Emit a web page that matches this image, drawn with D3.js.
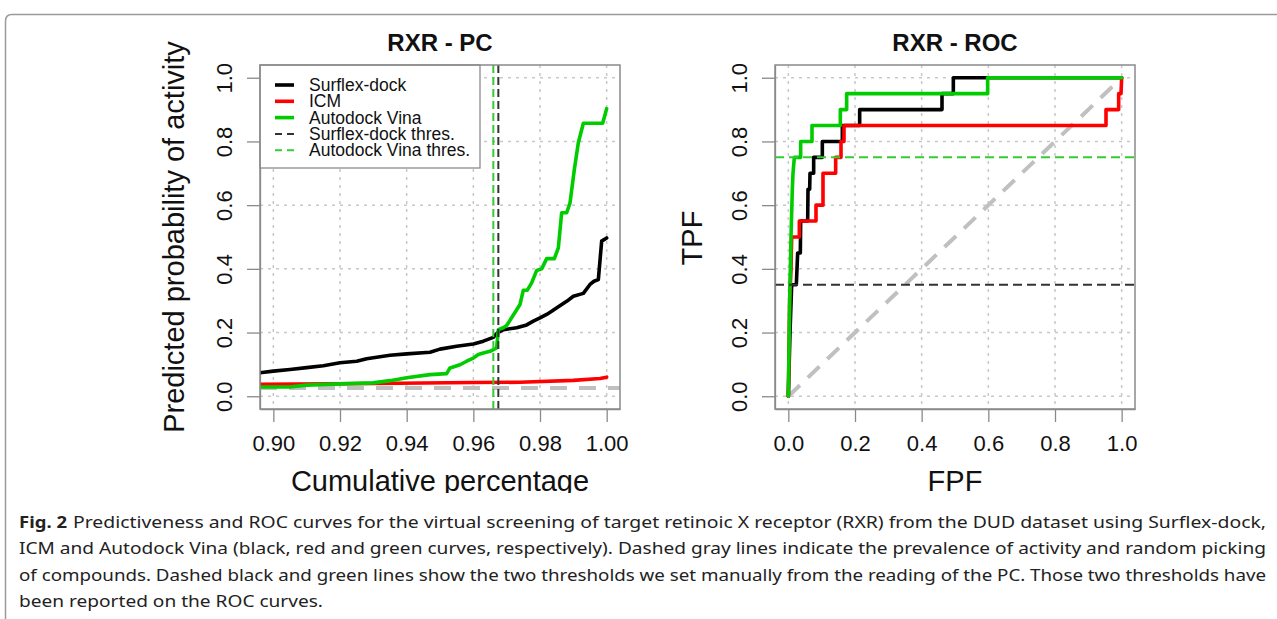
<!DOCTYPE html>
<html><head><meta charset="utf-8">
<script src="https://cdn.jsdelivr.net/npm/d3@7"></script>
<style>html,body{margin:0;padding:0;background:#fff;}svg{display:block;}</style>
</head><body>
<script>
// ---------- data ----------
const pcTicksX = [0.90, 0.92, 0.94, 0.96, 0.98, 1.00];
const probTicks = [0.0, 0.2, 0.4, 0.6, 0.8, 1.0];
const fpfTicks = [0.0, 0.2, 0.4, 0.6, 0.8, 1.0];

const pcSurflexX = [0.890,0.900,0.905,0.910,0.915,0.920,0.925,0.928,0.935,0.940,0.947,0.950,0.955,0.960,0.963,0.966,0.9672,0.969,0.973,0.976,0.978,0.980,0.982,0.9835,0.9855,0.988,0.990,0.993,0.995,0.9962,0.9975,0.9985,1.000];
const pcSurflexY = [0.066,0.079,0.084,0.090,0.096,0.105,0.110,0.118,0.129,0.133,0.138,0.148,0.157,0.164,0.173,0.185,0.199,0.209,0.215,0.224,0.236,0.246,0.257,0.267,0.281,0.298,0.314,0.323,0.351,0.361,0.366,0.487,0.497];
const pcIcmX = [0.890,0.930,0.960,0.974,0.990,0.998,1.000];
const pcIcmY = [0.037,0.040,0.043,0.044,0.050,0.056,0.060];
const pcVinaX = [0.890,0.905,0.910,0.920,0.930,0.935,0.940,0.947,0.952,0.953,0.956,0.958,0.960,0.9615,0.963,0.965,0.967,0.9675,0.969,0.970,0.974,0.975,0.9762,0.9775,0.979,0.9805,0.982,0.9843,0.9855,0.9865,0.988,0.989,0.9903,0.9915,0.993,0.9988,1.000];
const pcVinaY = [0.029,0.029,0.035,0.039,0.042,0.049,0.058,0.068,0.071,0.089,0.099,0.110,0.120,0.131,0.136,0.141,0.152,0.209,0.215,0.222,0.288,0.333,0.333,0.356,0.395,0.400,0.432,0.432,0.466,0.576,0.576,0.607,0.712,0.796,0.857,0.857,0.903];
const prevalence = 0.026;
const thrSurflexPC = 0.9675;
const thrVinaPC = 0.966;

const rocSurflexFPF = [0,0.005,0.010,0.024,0.026,0.028,0.036,0.037,0.058,0.059,0.064,0.065,0.076,0.076,0.102,0.102,0.162,0.162,0.214,0.214,0.461,0.461,0.495,0.495,1.0];
const rocSurflexTPF = [0,0.20,0.35,0.35,0.40,0.45,0.45,0.55,0.55,0.65,0.65,0.70,0.70,0.75,0.75,0.80,0.80,0.85,0.85,0.90,0.90,0.95,0.95,1.0,1.0];
const rocIcmFPF = [0,0.004,0.008,0.010,0.033,0.033,0.083,0.083,0.104,0.104,0.142,0.142,0.158,0.158,0.167,0.167,0.953,0.953,0.991,0.991,0.998,1.0];
const rocIcmTPF = [0,0.30,0.40,0.50,0.50,0.55,0.55,0.60,0.60,0.70,0.70,0.75,0.75,0.80,0.80,0.85,0.85,0.90,0.90,0.95,0.95,1.0];
const rocVinaFPF = [0,0.004,0.008,0.012,0.014,0.018,0.037,0.037,0.071,0.071,0.156,0.156,0.175,0.175,0.598,0.598,1.0];
const rocVinaTPF = [0,0.30,0.50,0.65,0.70,0.75,0.75,0.80,0.80,0.85,0.85,0.90,0.90,0.95,0.95,1.0,1.0];
const thrSurflexROC = 0.35;
const thrVinaROC = 0.75;

const legendLabels = ["Surflex-dock","ICM","Autodock Vina","Surflex-dock thres.","Autodock Vina thres."];
const captionBold = "Fig. 2";
const captionLines = [
 "Predictiveness and ROC curves for the virtual screening of target retinoic X receptor (RXR) from the DUD dataset using Surflex-dock,",
 "ICM and Autodock Vina (black, red and green curves, respectively). Dashed gray lines indicate the prevalence of activity and random picking",
 "of compounds. Dashed black and green lines show the two thresholds we set manually from the reading of the PC. Those two thresholds have",
 "been reported on the ROC curves."
];

// ---------- styles ----------
const C_BLACK = "#000", C_RED = "#ff0000", C_GREEN = "#00cc00";
const C_GRID = "#c8c8c8", C_BOX = "#8a8a8a", C_PREV = "#c0c0c0";
const FONT = "'Liberation Sans', Arial, Helvetica, sans-serif";

const W = 1277, H = 619;
const svg = d3.select("body").append("svg").attr("width", W).attr("height", H);
svg.append("rect").attr("width", W).attr("height", H).attr("fill", "#fff");

// frame
svg.append("path")
  .attr("d", `M5.5,${H+5} L5.5,21 Q5.5,14.5 12,14.5 L${W+5},14.5`)
  .attr("fill", "none").attr("stroke", "#9a9a9a").attr("stroke-width", 1.5);

const defs = svg.append("defs");
defs.append("clipPath").attr("id", "figclip").append("rect").attr("x", 0).attr("y", 16).attr("width", W).attr("height", 477);

const fig = svg.append("g").attr("clip-path", "url(#figclip)");

function pad(lo, hi) { const d = (hi - lo) * 0.04; return [lo - d, hi + d]; }

function panel(opts) {
  const { left, right, top, bottom, xDomain, yDomain, xTicks, yTicks, xFmt, id } = opts;
  const x = d3.scaleLinear().domain(pad(...xDomain)).range([left, right]);
  const y = d3.scaleLinear().domain(pad(...yDomain)).range([bottom, top]);
  const g = fig.append("g");
  defs.append("clipPath").attr("id", id).append("rect")
    .attr("x", left).attr("y", top).attr("width", right - left).attr("height", bottom - top);
  // grid
  const grid = g.append("g").attr("stroke", C_GRID).attr("stroke-width", 1.5).attr("stroke-dasharray", "3,5");
  xTicks.forEach(t => grid.append("line").attr("x1", x(t)).attr("x2", x(t)).attr("y1", top).attr("y2", bottom));
  yTicks.forEach(t => grid.append("line").attr("x1", left).attr("x2", right).attr("y1", y(t)).attr("y2", y(t)));
  // axes
  const xAxis = d3.axisBottom(x).tickValues(xTicks).tickFormat(xFmt).tickSizeInner(13).tickSizeOuter(0).tickPadding(13);
  const gx = g.append("g").attr("transform", `translate(0,${bottom})`).call(xAxis);
  gx.select(".domain").attr("stroke", C_BOX).attr("stroke-width", 1.3);
  gx.selectAll(".tick line").attr("stroke", C_BOX).attr("stroke-width", 1.3);
  gx.selectAll(".tick text").attr("font-family", FONT).attr("font-size", 22).attr("fill", "#111");
  const yAxis = d3.axisLeft(y).tickValues(yTicks).tickFormat(d3.format(".1f")).tickSizeInner(13).tickSizeOuter(0).tickPadding(0);
  const gy = g.append("g").attr("transform", `translate(${left},0)`).call(yAxis);
  gy.select(".domain").attr("stroke", C_BOX).attr("stroke-width", 1.3);
  gy.selectAll(".tick line").attr("stroke", C_BOX).attr("stroke-width", 1.3);
  gy.selectAll(".tick text")
    .attr("font-family", FONT).attr("font-size", 22).attr("fill", "#111")
    .attr("text-anchor", "middle").attr("dy", null)
    .attr("x", null)
    .attr("transform", `translate(-28,0) rotate(-90)`);
  const plot = g.append("g").attr("clip-path", `url(#${id})`);
  return { x, y, g, plot, left, right, top, bottom };
}

function drawLine(p, xs, ys, color, width, dash) {
  const idx = d3.range(xs.length);
  const line = d3.line().x(i => p.x(xs[i])).y(i => p.y(ys[i]));
  p.plot.append("path").attr("d", line(idx)).attr("fill", "none")
    .attr("stroke", color).attr("stroke-width", width)
    .attr("stroke-linejoin", "round").attr("stroke-linecap", dash ? "butt" : "round")
    .attr("stroke-dasharray", dash || null);
}

function box(p) {
  p.g.append("rect").attr("x", p.left).attr("y", p.top).attr("width", p.right - p.left).attr("height", p.bottom - p.top)
    .attr("fill", "none").attr("stroke", C_BOX).attr("stroke-width", 1.5);
}

// ---------- PC panel ----------
const pc = panel({ left: 260, right: 620, top: 65, bottom: 409, xDomain: [0.9, 1.0], yDomain: [0, 1],
  xTicks: pcTicksX, yTicks: probTicks, xFmt: d3.format(".2f"), id: "clipPC" });
// prevalence line
pc.plot.append("line").attr("x1", pc.left).attr("x2", pc.right).attr("y1", pc.y(prevalence)).attr("y2", pc.y(prevalence))
  .attr("stroke", C_PREV).attr("stroke-width", 4).attr("stroke-dasharray", "17,12");
drawLine(pc, pcSurflexX, pcSurflexY, C_BLACK, 3.6);
drawLine(pc, pcIcmX, pcIcmY, C_RED, 3.6);
drawLine(pc, pcVinaX, pcVinaY, C_GREEN, 3.6);
pc.plot.append("line").attr("x1", pc.x(thrVinaPC)).attr("x2", pc.x(thrVinaPC)).attr("y1", pc.top).attr("y2", pc.bottom)
  .attr("stroke", "#33cc33").attr("stroke-width", 2).attr("stroke-dasharray", "8,4");
pc.plot.append("line").attr("x1", pc.x(thrSurflexPC)).attr("x2", pc.x(thrSurflexPC)).attr("y1", pc.top).attr("y2", pc.bottom)
  .attr("stroke", "#333").attr("stroke-width", 2).attr("stroke-dasharray", "8,4");

// legend
const leg = pc.g.append("g");
leg.append("rect").attr("x", 260).attr("y", 65).attr("width", 220).attr("height", 103)
  .attr("fill", "#fff").attr("stroke", C_BOX).attr("stroke-width", 1.3);
const legStyles = [
  { c: C_BLACK, w: 3.6, d: null }, { c: C_RED, w: 3.6, d: null }, { c: C_GREEN, w: 3.6, d: null },
  { c: "#333", w: 2, d: "7,5" }, { c: "#33cc33", w: 2, d: "7,5" }
];
legendLabels.forEach((lab, i) => {
  const cy = 85 + i * 16.3;
  leg.append("line").attr("x1", 275).attr("x2", 294).attr("y1", cy).attr("y2", cy)
    .attr("stroke", legStyles[i].c).attr("stroke-width", legStyles[i].w).attr("stroke-dasharray", legStyles[i].d);
  leg.append("text").attr("x", 309).attr("y", cy + 6).text(lab)
    .attr("font-family", FONT).attr("font-size", 17.5).attr("fill", "#111");
});
box(pc);

// ---------- ROC panel ----------
const roc = panel({ left: 775, right: 1135, top: 65, bottom: 409, xDomain: [0, 1], yDomain: [0, 1],
  xTicks: fpfTicks, yTicks: probTicks, xFmt: d3.format(".1f"), id: "clipROC" });
roc.plot.append("line").attr("x1", roc.x(0)).attr("x2", roc.x(1)).attr("y1", roc.y(0)).attr("y2", roc.y(1))
  .attr("stroke", C_PREV).attr("stroke-width", 4).attr("stroke-dasharray", "16,11");
drawLine(roc, rocSurflexFPF, rocSurflexTPF, C_BLACK, 3.6);
drawLine(roc, rocIcmFPF, rocIcmTPF, C_RED, 3.6);
drawLine(roc, rocVinaFPF, rocVinaTPF, C_GREEN, 3.6);
roc.plot.append("line").attr("x1", roc.left).attr("x2", roc.right).attr("y1", roc.y(thrVinaROC)).attr("y2", roc.y(thrVinaROC))
  .attr("stroke", "#33cc33").attr("stroke-width", 2).attr("stroke-dasharray", "9,5");
roc.plot.append("line").attr("x1", roc.left).attr("x2", roc.right).attr("y1", roc.y(thrSurflexROC)).attr("y2", roc.y(thrSurflexROC))
  .attr("stroke", "#333").attr("stroke-width", 2).attr("stroke-dasharray", "9,5");
box(roc);

// ---------- titles ----------
function title(txt, cx) {
  fig.append("text").attr("x", cx).attr("y", 51).attr("text-anchor", "middle").text(txt)
    .attr("font-family", FONT).attr("font-weight", "bold").attr("font-size", 24).attr("fill", "#111");
}
title("RXR - PC", 440);
title("RXR - ROC", 955);
function xlab(txt, cx) {
  fig.append("text").attr("x", cx).attr("y", 491).attr("text-anchor", "middle").text(txt)
    .attr("font-family", FONT).attr("font-size", 29).attr("fill", "#111");
}
xlab("Cumulative percentage", 440);
xlab("FPF", 955);
function ylab(txt, bx, cy) {
  fig.append("text").attr("transform", `translate(${bx},${cy}) rotate(-90)`).attr("text-anchor", "middle").text(txt)
    .attr("font-family", FONT).attr("font-size", 29).attr("fill", "#111");
}
ylab("Predicted probability of activity", 184, 237);
ylab("TPF", 702, 238);

// ---------- caption ----------
const CAP_FONT = "'Noto Sans', 'Open Sans', sans-serif";
const cap = svg.append("g").attr("font-family", CAP_FONT).attr("font-size", 16).attr("fill", "#222");
cap.append("text").attr("x", 19).attr("y", 528).attr("font-weight", "bold").text(captionBold)
  .attr("textLength", 48).attr("lengthAdjust", "spacingAndGlyphs");
const capStarts = [73, 19, 19, 19];
const capEnds = [1266, 1266, 1266, 323];
const capBase = [528, 554, 581, 607];
captionLines.forEach((t, i) => {
  cap.append("text").attr("x", capStarts[i]).attr("y", capBase[i]).text(t)
    .attr("textLength", capEnds[i] - capStarts[i]).attr("lengthAdjust", "spacingAndGlyphs");
});
</script>
</body></html>
